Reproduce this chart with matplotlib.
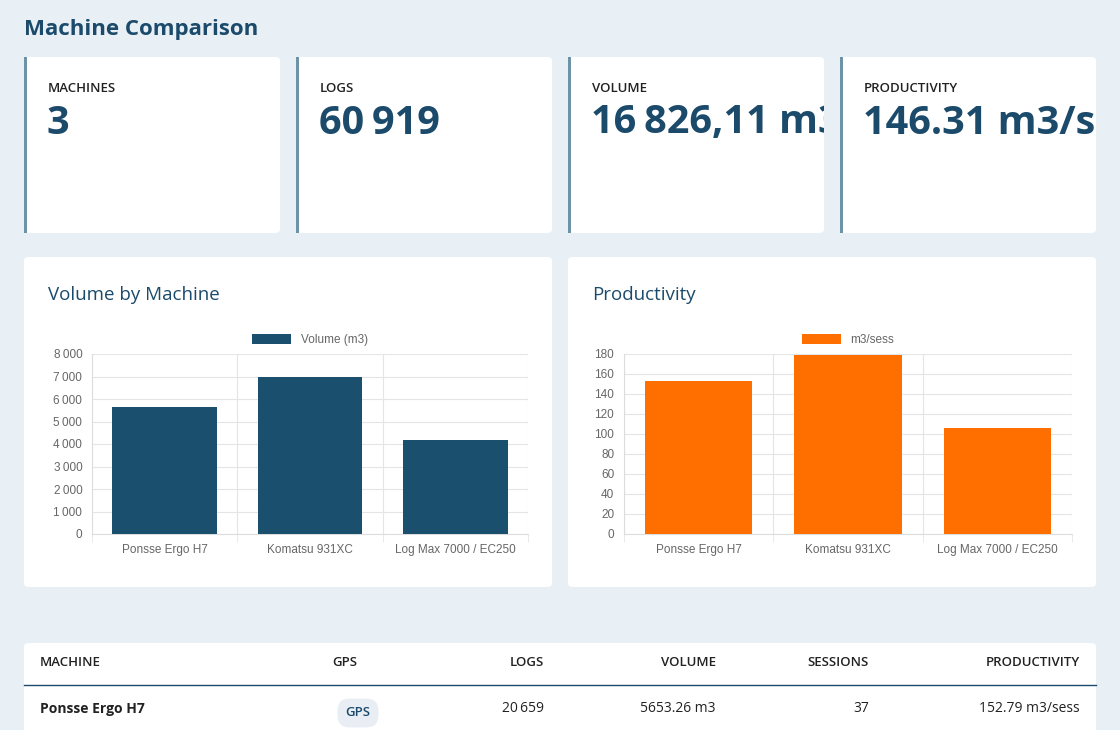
import matplotlib.pyplot as plt
from matplotlib.patches import FancyBboxPatch, Rectangle
from matplotlib.ticker import FuncFormatter

machines = ['Ponsse Ergo H7', 'Komatsu 931XC', 'Log Max 7000 / EC250']
volume = [5653.26, 6995, 4178]
productivity = [152.79, 179.2, 106.3]

kpi_labels = ['MACHINES', 'LOGS', 'VOLUME', 'PRODUCTIVITY']
kpi_values = ['3', '60\u2009919', '16\u2009826,11 m3', '146.31 m3/sess']

table_cols = ['MACHINE', 'GPS', 'LOGS', 'VOLUME', 'SESSIONS', 'PRODUCTIVITY']
table_row = ['Ponsse Ergo H7', 'GPS', '20\u2009659', '5653.26 m3', '37', '152.79 m3/sess']

W, H = 1120, 730
BG = '#e8eff5'
DARK = '#1b4a6b'
HEAD = ['Open Sans', 'DejaVu Sans']
CH = ['Liberation Sans', 'DejaVu Sans']

fig = plt.figure(figsize=(W / 100, H / 100), dpi=100, facecolor=BG)


def fx(x):
    return x / W


def fy(y):
    return 1 - y / H


def card(x0, y0, x1, y1, accent=False):
    p = FancyBboxPatch((fx(x0), fy(y1)), fx(x1 - x0), (y1 - y0) / H,
                       boxstyle='round,pad=0,rounding_size=0.005',
                       transform=fig.transFigure, facecolor='white',
                       edgecolor='none', zorder=0.1)
    fig.patches.append(p)
    if accent:
        fig.patches.append(Rectangle((fx(x0), fy(y1)), 3 / W, (y1 - y0) / H,
                                     transform=fig.transFigure,
                                     facecolor='#6e92a6', edgecolor='none', zorder=0.2))
    return p


fig.text(fx(24), fy(29), 'Machine Comparison', fontsize=16, fontweight='bold',
         color=DARK, family=HEAD, va='center')

# KPI cards
for i, (lab, val) in enumerate(zip(kpi_labels, kpi_values)):
    x0 = 24 + i * 272
    card(x0, 57, x0 + 256, 233, accent=True)
    fig.text(fx(x0 + 24), fy(89), lab, fontsize=9.5, color='#222222',
             family=HEAD, va='center', fontweight='semibold')
    kax = fig.add_axes([fx(x0 + 4), fy(160), fx(252), 60 / H])
    kax.set_zorder(3)
    kax.set_axis_off()
    kax.set_xlim(0, 252)
    kax.set_ylim(0, 60)
    kax.text(19, 37, val, fontsize=28.5, fontweight='bold', color=DARK,
             family=HEAD, va='center', clip_on=True)

# chart cards
card(24, 257, 552, 587)
card(568, 257, 1096, 587)
fig.text(fx(48), fy(295), 'Volume by Machine', fontsize=13.5, color=DARK,
         family=HEAD, va='center', fontweight='medium')
fig.text(fx(592), fy(295), 'Productivity', fontsize=13.5, color=DARK,
         family=HEAD, va='center', fontweight='medium')


def bar_chart(x0, x1, vals, ymax, step, color, label, fmt):
    ax = fig.add_axes([fx(x0), fy(534), fx(x1 - x0), (534 - 354) / H])
    ax.set_zorder(3)
    ax.patch.set_alpha(0)
    ax.bar(range(len(vals)), vals, width=0.72, color=color, label=label, zorder=3)
    ax.set_xlim(-0.5, len(vals) - 0.5)
    ax.set_ylim(0, ymax)
    ax.set_yticks(range(0, ymax + 1, step))
    ax.yaxis.set_major_formatter(FuncFormatter(fmt))
    ax.set_xticks(range(len(vals)))
    ax.set_xticklabels(machines)
    ax.set_xticks([-0.5, 0.5, 1.5, 2.5], minor=True)
    ax.grid(True, which='minor', axis='x', color='#e5e5e5', lw=0.8)
    ax.grid(True, which='major', axis='y', color='#e5e5e5', lw=0.8)
    ax.tick_params(which='both', length=0)
    ax.tick_params(axis='x', which='minor', length=6, color='#e5e5e5')
    ax.tick_params(labelsize=8.5, labelcolor='#666666', pad=7)
    for s in ['top', 'right']:
        ax.spines[s].set_visible(False)
    for s in ['left', 'bottom']:
        ax.spines[s].set_color('#dddddd')
    for t in ax.get_xticklabels() + ax.get_yticklabels():
        t.set_family(CH)
    leg = ax.legend(loc='lower center', bbox_to_anchor=(0.5, 1.0), frameon=False,
                    handlelength=3.3, handleheight=0.9,
                    prop={'family': CH, 'size': 8.5}, borderaxespad=0.3)
    for t in leg.get_texts():
        t.set_color('#666666')
    return ax


bar_chart(92, 528, volume, 8000, 1000, '#1a4f6e', 'Volume (m3)',
          lambda v, p: f'{int(v):,}'.replace(',', '\u2009'))
bar_chart(624, 1072, productivity, 180, 20, '#ff6f00', 'm3/sess',
          lambda v, p: f'{int(v)}')

# table
card(24, 643, 1096, 760)
fig.add_artist(plt.Line2D([fx(24), fx(1096)], [fy(685), fy(685)],
                          transform=fig.transFigure, color=DARK, lw=1))
col_x = [40, 332, 544, 716, 869, 1080]
col_ha = ['left', 'left', 'right', 'right', 'right', 'right']
for c, x, ha in zip(table_cols, col_x, col_ha):
    fig.text(fx(x), fy(663), c, fontsize=9.5, ha=ha, va='center',
             color='#222222', family=HEAD, fontweight='semibold')
for i, (c, x, ha) in enumerate(zip(table_row, col_x, col_ha)):
    if i == 1:
        fig.text(fx(x + 26), fy(713), c, fontsize=9.5, ha='center', va='center',
                 color=DARK, family=HEAD, fontweight='semibold',
                 bbox=dict(boxstyle='round,pad=0.6,rounding_size=0.9',
                           facecolor='#e8eef4', edgecolor='none'))
    else:
        fig.text(fx(x), fy(709), c, fontsize=10, ha=ha, va='center',
                 color='#222222', family=HEAD,
                 fontweight='bold' if i == 0 else 'normal')

fig.savefig('out.png', dpi=100, facecolor=BG)
